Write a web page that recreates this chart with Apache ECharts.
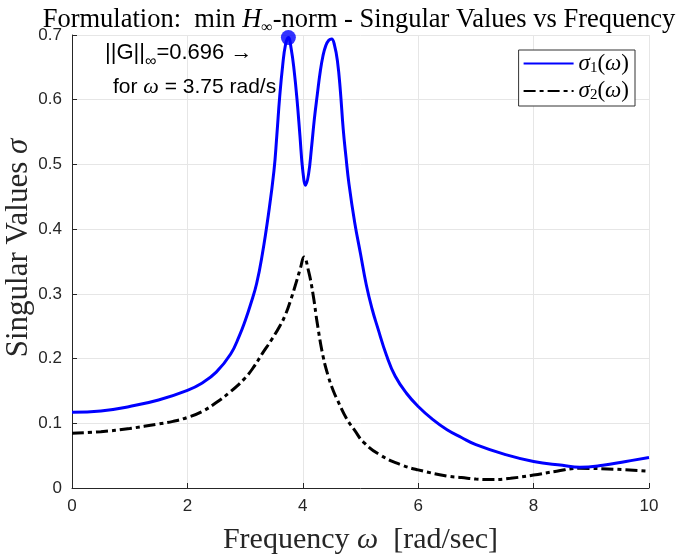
<!DOCTYPE html>
<html><head><meta charset="utf-8">
<script src="https://cdn.jsdelivr.net/npm/echarts/dist/echarts.min.js"></script>
<style>html,body{margin:0;padding:0;background:#fff}#c{width:685px;height:556px}</style>
</head><body><div id="c"></div>
<script>
// ---- data ----
const omega1 = [0, 0.5, 1.0, 1.5, 2.0, 2.25, 2.5, 2.75, 2.9, 3.0, 3.1, 3.2, 3.3, 3.4, 3.5, 3.55, 3.6, 3.65, 3.7, 3.75, 3.8, 3.85, 3.9, 3.95, 4.0, 4.05, 4.1, 4.15, 4.2, 4.25, 4.3, 4.35, 4.4, 4.45, 4.5, 4.55, 4.6, 4.65, 4.7, 4.75, 4.8, 4.9, 5.0, 5.1, 5.2, 5.3, 5.45, 5.6, 5.8, 6.0, 6.25, 6.5, 6.75, 7.0, 7.5, 8.0, 8.5, 8.8, 9.2, 9.6, 10];
const sigma1 = [0.117, 0.119, 0.126, 0.136, 0.151, 0.162, 0.179, 0.207, 0.235, 0.258, 0.285, 0.316, 0.362, 0.42, 0.49, 0.545, 0.605, 0.652, 0.685, 0.696, 0.678, 0.645, 0.6, 0.545, 0.49, 0.468, 0.485, 0.525, 0.57, 0.607, 0.642, 0.668, 0.684, 0.692, 0.694, 0.684, 0.66, 0.615, 0.555, 0.51, 0.47, 0.41, 0.362, 0.314, 0.277, 0.247, 0.205, 0.173, 0.146, 0.126, 0.106, 0.09, 0.078, 0.067, 0.052, 0.041, 0.035, 0.032, 0.035, 0.041, 0.047];
const omega2 = [0, 0.5, 1.0, 1.5, 1.75, 2.0, 2.25, 2.5, 2.75, 3.0, 3.15, 3.3, 3.45, 3.6, 3.7, 3.8, 3.9, 3.96, 4.02, 4.1, 4.18, 4.25, 4.35, 4.45, 4.53, 4.6, 4.76, 4.9, 5.05, 5.34, 5.7, 6.0, 6.5, 6.75, 7.0, 7.3, 7.6, 8.0, 8.4, 8.8, 9.4, 10];
const sigma2 = [0.0845, 0.087, 0.092, 0.099, 0.103, 0.109, 0.118, 0.132, 0.149, 0.17, 0.187, 0.208, 0.228, 0.25, 0.268, 0.293, 0.322, 0.34, 0.357, 0.335, 0.298, 0.255, 0.204, 0.17, 0.15, 0.136, 0.107, 0.089, 0.071, 0.051, 0.036, 0.028, 0.0185, 0.0162, 0.0138, 0.013, 0.015, 0.02, 0.026, 0.0304, 0.029, 0.026];
const peakOmega = [3.75];
const peakSigma = [0.696];
const xTicks = [0, 2, 4, 6, 8, 10];
const yTicks = [0, 0.1, 0.2, 0.3, 0.4, 0.5, 0.6, 0.7];

const zip = (a, b) => a.map((v, i) => [v, b[i]]);
const serif = 'Liberation Serif';
const sans = 'Liberation Sans';
const axisColor = '#262626';

const chart = echarts.init(document.getElementById('c'), null, {renderer: 'canvas'});
chart.setOption({
  backgroundColor: '#fff',
  animation: false,
  title: {
    text: '{n|Formulation:  min }{i|H}{s|∞}{n|-norm - Singular Values vs Frequency}',
    left: 354, textAlign: 'center', top: -1,
    textStyle: {
      fontWeight: 'normal',
      rich: {
        n: {fontFamily: serif, fontSize: 26.5, fontWeight: 'normal', color: '#000', lineHeight: 30},
        i: {fontFamily: serif, fontSize: 26.5, fontWeight: 'normal', fontStyle: 'italic', color: '#000', lineHeight: 30},
        s: {fontFamily: serif, fontSize: 16, fontWeight: 'normal', color: '#000', verticalAlign: 'bottom', lineHeight: 32}
      }
    }
  },
  grid: {left: 72, right: 36, top: 35, bottom: 68, containLabel: false, outerBoundsMode: 'none'},
  legend: {
    data: ['s1', 's2'],
    orient: 'vertical', right: 50, top: 50,
    itemWidth: 50, itemHeight: 14, itemGap: 4,
    itemStyle: {color: 'rgba(0,0,0,0)', borderWidth: 0, opacity: 0},
    backgroundColor: '#fff', borderColor: '#333', borderWidth: 1, borderRadius: 0,
    padding: [2, 6, 3, 4],
    formatter: n => n === 's1' ? '{i|σ}{s|1}{n|(}{i|ω}{n|)}' : '{i|σ}{s|2}{n|(}{i|ω}{n|)}',
    textStyle: {
      rich: {
        n: {fontFamily: serif, fontSize: 23, color: '#000'},
        i: {fontFamily: serif, fontSize: 23, fontStyle: 'italic', color: '#000'},
        s: {fontFamily: serif, fontSize: 15, color: '#000', verticalAlign: 'bottom', lineHeight: 24}
      }
    }
  },
  xAxis: {
    type: 'value', min: xTicks[0], max: xTicks[xTicks.length - 1], interval: 2,
    axisLine: {show: true, lineStyle: {color: axisColor}},
    axisTick: {show: true, inside: true, length: 5, lineStyle: {color: axisColor}},
    axisLabel: {color: axisColor, fontSize: 17, fontFamily: sans, margin: 10},
    splitLine: {show: true, lineStyle: {color: '#e6e6e6'}},
    name: '{n|Frequency }{i|ω}{n|  [rad/sec]}',
    nameLocation: 'middle', nameGap: 37,
    nameTextStyle: {
      rich: {
        n: {fontFamily: serif, fontSize: 30, color: '#262626'},
        i: {fontFamily: serif, fontSize: 30, fontStyle: 'italic', color: '#262626'}
      }
    }
  },
  yAxis: {
    type: 'value', min: yTicks[0], max: yTicks[yTicks.length - 1], interval: 0.1,
    axisLine: {show: true, lineStyle: {color: axisColor}},
    axisTick: {show: true, inside: true, length: 5, lineStyle: {color: axisColor}},
    axisLabel: {color: axisColor, fontSize: 17, fontFamily: sans, margin: 10},
    splitLine: {show: true, lineStyle: {color: '#e6e6e6'}}
  },
  graphic: [
    {type: 'text', x: 19, y: 248, rotation: Math.PI / 2, z: 100, style: {
      text: '{n|Singular Values }{i|σ}',
      align: 'center', verticalAlign: 'middle',
      rich: {
        n: {fontFamily: serif, fontSize: 31, fill: '#262626'},
        i: {fontFamily: serif, fontSize: 31, fontStyle: 'italic', fill: '#262626'}
      }
    }},
    {type: 'text', left: 105, top: 42, z: 100, style: {
      text: '{n|||G||}{s|∞}{n|=0.696 →}',
      rich: {
        n: {fontFamily: sans, fontSize: 22, fill: '#000', lineHeight: 30},
        s: {fontFamily: sans, fontSize: 16, fill: '#000', verticalAlign: 'bottom', lineHeight: 34}
      }
    }},
    {type: 'text', left: 113, top: 76, z: 100, style: {
      text: '{n|for }{i|ω}{n| = 3.75 rad/s}',
      rich: {
        n: {fontFamily: sans, fontSize: 21, fill: '#000'},
        i: {fontFamily: serif, fontSize: 22, fontStyle: 'italic', fill: '#000'}
      }
    }}
  ],
  series: [
    {name: 's1', type: 'line', data: zip(omega1, sigma1), showSymbol: false, symbol: 'none',
     smooth: 0.45,
     lineStyle: {color: '#0000ff', width: 3}, itemStyle: {color: '#0000ff'}, z: 3},
    {name: 's2', type: 'line', data: zip(omega2, sigma2), showSymbol: false, symbol: 'none',
     smooth: 0.45,
     lineStyle: {color: '#000', width: 3, type: [12, 4, 4, 4]}, itemStyle: {color: '#000'}, z: 2},
    {name: 'peak', type: 'scatter', data: zip(peakOmega, peakSigma), symbolSize: 15,
     itemStyle: {color: '#0000ff'}, z: 4}
  ]
});
</script></body></html>
